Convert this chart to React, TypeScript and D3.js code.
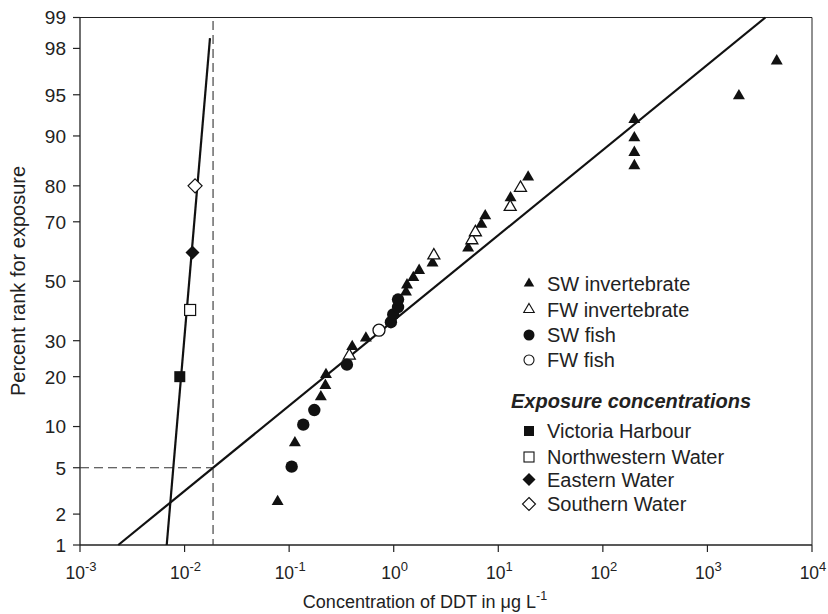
import React from 'react';
import * as d3 from 'd3';

// ---------- data ----------
const xTickExponents = [-3, -2, -1, 0, 1, 2, 3, 4];
const yTickPercents = [1, 2, 5, 10, 20, 30, 50, 70, 80, 90, 95, 98, 99];

const swInvConc = [0.0776, 0.1135, 0.201, 0.222, 0.225, 0.401, 0.542, 1.31, 1.34, 1.54, 1.75, 2.35, 5.15, 6.89, 7.5, 13.1, 19.3, 200, 200, 200, 200, 2000, 4600];
const swInvPct = [2.6, 7.7, 15.4, 17.9, 20.5, 28.2, 30.8, 46.2, 48.7, 51.3, 53.8, 56.4, 61.5, 69.2, 71.8, 76.9, 82.1, 84.6, 87.2, 89.7, 92.3, 94.9, 97.4];

const fwInvConc = [0.376, 2.42, 5.59, 6.04, 13.0, 16.3];
const fwInvPct = [25.6, 59.0, 64.1, 66.7, 74.4, 79.5];

const swFishConc = [0.1057, 0.1365, 0.174, 0.357, 0.94, 0.99, 1.1, 1.1];
const swFishPct = [5.1, 10.3, 12.8, 23.1, 35.9, 38.5, 41.0, 43.6];

const fwFishConc = [0.723];
const fwFishPct = [33.3];

const exposureNames = ['Victoria Harbour', 'Northwestern Water', 'Eastern Water', 'Southern Water'];
const exposureConc = [0.009, 0.0113, 0.0119, 0.0126];
const exposurePct = [20, 40, 60, 80];

// species sensitivity distribution (log-normal, log10 units)
const ssdMeanLog = 0.46;
const ssdSdLog = 1.33;
const ssdLinePct = [1, 99];
const hazardPct = 5;

// exposure distribution line endpoints
const expLineConc = [0.00675, 0.0175];
const expLinePct = [1, 98.4];

const legendSpecies = ['SW invertebrate', 'FW invertebrate', 'SW fish', 'FW fish'];

// ---------- helpers ----------
function probit(p: number): number {
  const a = [-3.969683028665376e+01, 2.209460984245205e+02, -2.759285104469687e+02, 1.383577518672690e+02, -3.066479806614716e+01, 2.506628277459239e+00];
  const b = [-5.447609879822406e+01, 1.615858368580409e+02, -1.556989798598866e+02, 6.680131188771972e+01, -1.328068155288572e+01];
  const c = [-7.784894002430293e-03, -3.223964580411365e-01, -2.400758277161838e+00, -2.549732539343734e+00, 4.374664141464968e+00, 2.938163982698783e+00];
  const d = [7.784695709041462e-03, 3.224671290700398e-01, 2.445134137142996e+00, 3.754408661907416e+00];
  const pl = 0.02425, ph = 1 - pl;
  let q: number, r: number;
  if (p < pl) {
    q = Math.sqrt(-2 * Math.log(p));
    return (((((c[0] * q + c[1]) * q + c[2]) * q + c[3]) * q + c[4]) * q + c[5]) / ((((d[0] * q + d[1]) * q + d[2]) * q + d[3]) * q + 1);
  }
  if (p <= ph) {
    q = p - 0.5; r = q * q;
    return (((((a[0] * r + a[1]) * r + a[2]) * r + a[3]) * r + a[4]) * r + a[5]) * q / (((((b[0] * r + b[1]) * r + b[2]) * r + b[3]) * r + b[4]) * r + 1);
  }
  q = Math.sqrt(-2 * Math.log(1 - p));
  return -(((((c[0] * q + c[1]) * q + c[2]) * q + c[3]) * q + c[4]) * q + c[5]) / ((((d[0] * q + d[1]) * q + d[2]) * q + d[3]) * q + 1);
}

const W = 828, H = 614;
const plot = { left: 80, right: 812, top: 17.5, bottom: 545 };
const FONT = '"Liberation Sans", Arial, Helvetica, sans-serif';

const x = d3.scaleLog().domain([1e-3, 1e4]).range([plot.left, plot.right]);
const z = d3.scaleLinear().domain([probit(0.01), probit(0.99)]).range([plot.bottom, plot.top]);
const y = (pct: number) => z(probit(pct / 100));

const triPath = (size: number) => d3.symbol().type(d3.symbolTriangle).size(size)() as string;
const diamondPath = (h: number) => `M0,${-h}L${h},0L0,${h}L${-h},0Z`;

const line = d3.line<[number, number]>().x(d => x(d[0])).y(d => y(d[1]));

export default function App() {
  const ssdPts: [number, number][] = ssdLinePct.map(p => [Math.pow(10, ssdMeanLog + ssdSdLog * probit(p / 100)), p]);
  const hc5 = Math.pow(10, ssdMeanLog + ssdSdLog * probit(hazardPct / 100));
  const expPts: [number, number][] = expLineConc.map((cc, i) => [cc, expLinePct[i]]);

  const triBig = triPath(62);
  const triLeg = triPath(48);

  const legX = 529;
  const legTextX = 547;
  const legRows = [283.5, 309.5, 335, 360];
  const expRows = [431, 457, 479.5, 504];

  return (
    <svg width={W} height={H} style={{ position: 'absolute', left: 0, top: 0, display: 'block', background: '#fff' }} fontFamily={FONT}>
      <rect x={0} y={0} width={W} height={H} fill="#fff" />
      {/* frame */}
      <line x1={plot.left} x2={plot.right} y1={plot.top} y2={plot.top} stroke="#222" strokeWidth={1} />
      <line x1={plot.right} x2={plot.right} y1={plot.top} y2={plot.bottom} stroke="#222" strokeWidth={1} />
      <line x1={plot.left} x2={plot.left} y1={plot.top} y2={plot.bottom} stroke="#222" strokeWidth={1.3} />
      <line x1={plot.left} x2={plot.right} y1={plot.bottom} y2={plot.bottom} stroke="#222" strokeWidth={1.3} />

      {/* y ticks */}
      {yTickPercents.map(p => (
        <g key={'y' + p}>
          <line x1={plot.left - 7} x2={plot.left} y1={y(p)} y2={y(p)} stroke="#222" strokeWidth={1.2} />
          <text x={plot.left - 14} y={y(p)} dy="0.36em" textAnchor="end" fontSize={19} fill="#222">{p}</text>
        </g>
      ))}
      {/* x ticks */}
      {xTickExponents.map(e => (
        <g key={'x' + e}>
          <line x1={x(Math.pow(10, e))} x2={x(Math.pow(10, e))} y1={plot.bottom} y2={plot.bottom + 7} stroke="#222" strokeWidth={1.2} />
          <text x={x(Math.pow(10, e)) + 1} y={579} textAnchor="middle" fontSize={17.5} fill="#222">
            <tspan>10</tspan>
            <tspan dy={-8} fontSize={13}>{String(e)}</tspan>
          </text>
        </g>
      ))}

      {/* axis titles */}
      <text transform="rotate(-90)" x={-281} y={25} textAnchor="middle" fontSize={20} fill="#222">Percent rank for exposure</text>
      <text x={425} y={608} textAnchor="middle" fontSize={18} fill="#222">
        <tspan>Concentration of DDT in μg L</tspan>
        <tspan dy={-8} fontSize={12.5}>-1</tspan>
      </text>

      {/* dashed reference lines */}
      <line x1={x(hc5)} x2={x(hc5)} y1={21} y2={plot.bottom} stroke="#333" strokeWidth={1.1} strokeDasharray="9,5" />
      <line x1={plot.left} x2={x(hc5)} y1={y(hazardPct)} y2={y(hazardPct)} stroke="#333" strokeWidth={1.1} strokeDasharray="9,5" />

      {/* fitted lines */}
      <path d={line(ssdPts) as string} fill="none" stroke="#111" strokeWidth={2.2} />
      <path d={line(expPts) as string} fill="none" stroke="#111" strokeWidth={2.2} />

      {/* species points */}
      {swInvConc.map((cc, i) => (
        <path key={'swi' + i} d={triBig} transform={`translate(${x(cc)},${y(swInvPct[i])})`} fill="#111" />
      ))}
      {fwInvConc.map((cc, i) => (
        <path key={'fwi' + i} d={triBig} transform={`translate(${x(cc)},${y(fwInvPct[i])})`} fill="#fff" stroke="#111" strokeWidth={1.3} />
      ))}
      {swFishConc.map((cc, i) => (
        <circle key={'swf' + i} cx={x(cc)} cy={y(swFishPct[i])} r={6.2} fill="#111" />
      ))}
      {fwFishConc.map((cc, i) => (
        <circle key={'fwf' + i} cx={x(cc)} cy={y(fwFishPct[i])} r={6} fill="#fff" stroke="#111" strokeWidth={1.3} />
      ))}

      {/* exposure points */}
      {exposureConc.map((cc, i) => {
        const cx = x(cc), cy = y(exposurePct[i]);
        if (i === 0) return <rect key={'e' + i} x={cx - 5.5} y={cy - 5.5} width={11} height={11} fill="#111" />;
        if (i === 1) return <rect key={'e' + i} x={cx - 5.5} y={cy - 5.5} width={11} height={11} fill="#fff" stroke="#111" strokeWidth={1.2} />;
        if (i === 2) return <path key={'e' + i} d={diamondPath(7)} transform={`translate(${cx},${cy})`} fill="#111" />;
        return <path key={'e' + i} d={diamondPath(7)} transform={`translate(${cx},${cy})`} fill="#fff" stroke="#111" strokeWidth={1.2} />;
      })}

      {/* legend */}
      {legendSpecies.map((name, i) => {
        const cy = legRows[i];
        let sym;
        if (i === 0) sym = <path d={triLeg} transform={`translate(${legX},${cy})`} fill="#111" />;
        else if (i === 1) sym = <path d={triLeg} transform={`translate(${legX},${cy})`} fill="#fff" stroke="#111" strokeWidth={1.1} />;
        else if (i === 2) sym = <circle cx={legX} cy={cy} r={5.5} fill="#111" />;
        else sym = <circle cx={legX} cy={cy} r={5} fill="#fff" stroke="#111" strokeWidth={1.1} />;
        return (
          <g key={'ls' + i}>
            {sym}
            <text x={legTextX} y={cy} dy="0.36em" fontSize={20} fill="#222">{name}</text>
          </g>
        );
      })}
      <text x={511} y={400.5} dy="0.36em" fontSize={20} fontWeight="bold" fontStyle="italic" fill="#222">Exposure concentrations</text>
      {exposureNames.map((name, i) => {
        const cy = expRows[i];
        let sym;
        if (i === 0) sym = <rect x={legX - 5} y={cy - 5} width={10} height={10} fill="#111" />;
        else if (i === 1) sym = <rect x={legX - 5} y={cy - 5} width={10} height={10} fill="#fff" stroke="#111" strokeWidth={1.1} />;
        else if (i === 2) sym = <path d={diamondPath(6.5)} transform={`translate(${legX},${cy})`} fill="#111" />;
        else sym = <path d={diamondPath(6.5)} transform={`translate(${legX},${cy})`} fill="#fff" stroke="#111" strokeWidth={1.1} />;
        return (
          <g key={'le' + i}>
            {sym}
            <text x={legTextX} y={cy} dy="0.36em" fontSize={20} fill="#222">{name}</text>
          </g>
        );
      })}
    </svg>
  );
}
